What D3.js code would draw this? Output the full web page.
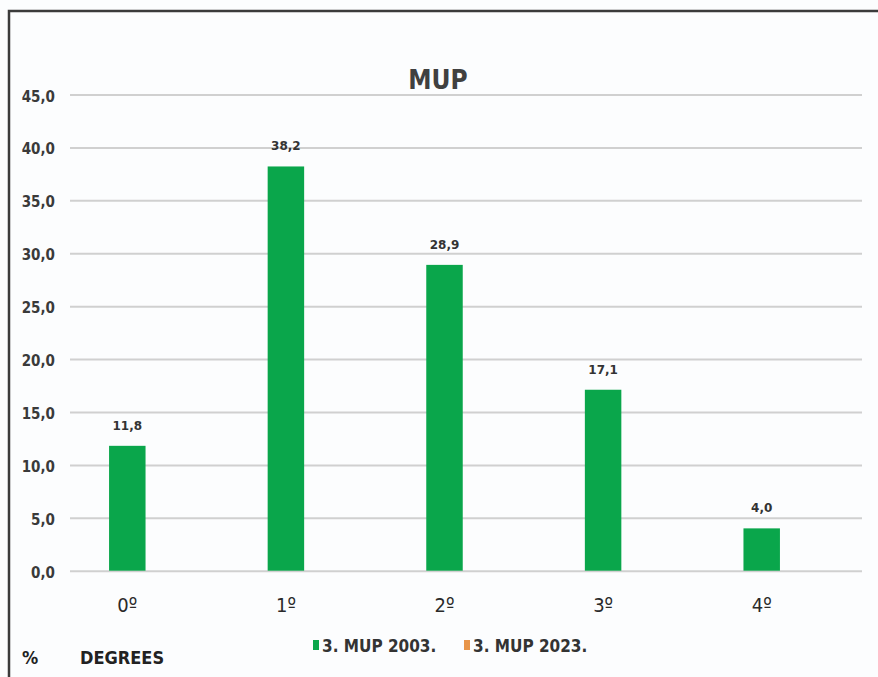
<!DOCTYPE html>
<html>
<head>
<meta charset="utf-8">
<script src="https://cdn.jsdelivr.net/npm/d3@7"></script>
<style>
  body { margin: 0; background: #fcfdfe; }
  svg { display: block; }
  .cond { font-family: "Liberation Sans Narrow", "DejaVu Sans Condensed", "Roboto Condensed", sans-serif; font-stretch: condensed; }
  .grid line { stroke: #d0d0d0; stroke-width: 2; }
  .grid .domain { display: none; }
  .ytick text { fill: #3a3a3a; font-size: 15px; font-weight: bold; }
  .xtick text { fill: #2a2a2a; font-size: 20px; }
  .bar { fill: #0aa64b; }
  .label { fill: #333; font-size: 12px; font-weight: bold; font-family: "DejaVu Sans", sans-serif; text-anchor: middle; }
</style>
</head>
<body>
<script>
var categories = ["0º", "1º", "2º", "3º", "4º"]
var mup2003 = [11.8, 38.2, 28.9, 17.1, 4.0]
var mup2023 = [0, 0, 0, 0, 0]
var yTicks = [0, 5, 10, 15, 20, 25, 30, 35, 40, 45]
var seriesNames = ["3. MUP 2003.", "3. MUP 2023."]
var seriesColors = ["#0aa64b", "#e8954a"]

var width = 878, height = 677
var fmt = function(v){ return v.toFixed(1).replace(".", ",") }

var svg = d3.select("body").append("svg")
    .attr("width", width)
    .attr("height", height)

// frame
svg.append("path")
    .attr("d", "M9,677 V11 H878")
    .attr("fill", "none")
    .attr("stroke", "#3b3b3b")
    .attr("stroke-width", 2.5)

var y = d3.scaleLinear()
    .domain([0, 45])
    .range([570.7, 94.5])

var x = d3.scaleBand()
    .domain(categories)
    .range([48, 841])
    .paddingInner(0.77)
    .paddingOuter(0.385)

//GRID
var grid = svg.append("g")
    .attr("class", "grid")
    .attr("transform", "translate(70,0)")
    .call(d3.axisRight(y).tickValues(yTicks).tickSize(792).tickFormat(""))

//Y LABELS
svg.append("g").attr("class", "ytick cond").selectAll("text")
    .data(yTicks)
    .enter().append("text")
    .attr("x", 55)
    .attr("y", function(d){ return y(d) + 7 })
    .attr("text-anchor", "end")
    .text(fmt)

//BARS
svg.selectAll("rect.bar")
    .data(mup2003)
    .enter().append("rect")
    .attr("class", "bar")
    .attr("x", function(d, i){ return x(categories[i]) })
    .attr("y", function(d){ return y(d) })
    .attr("width", x.bandwidth())
    .attr("height", function(d){ return y(0) - y(d) })

//VALUE LABELS
svg.append("g").selectAll("text")
    .data(mup2003)
    .enter().append("text")
    .attr("class", "label")
    .attr("x", function(d, i){ return x(categories[i]) + x.bandwidth() / 2 })
    .attr("y", function(d){ return y(d) - 16 })
    .text(fmt)

//X LABELS
svg.append("g").attr("class", "xtick cond").selectAll("text")
    .data(categories)
    .enter().append("text")
    .attr("x", function(d){ return x(d) + x.bandwidth() / 2 })
    .attr("y", 612)
    .attr("text-anchor", "middle")
    .text(function(d){ return d })

//TITLE
svg.append("text")
    .attr("class", "cond")
    .attr("x", 438)
    .attr("y", 89)
    .attr("text-anchor", "middle")
    .attr("fill", "#404040")
    .attr("font-size", 26)
    .attr("font-weight", "bold")
    .text("MUP")

//LEGEND
var legend = svg.append("g").attr("class", "cond")
var legX = [313, 464]
seriesNames.forEach(function(name, i){
    legend.append("rect")
        .attr("x", legX[i])
        .attr("y", 640)
        .attr("width", 6)
        .attr("height", 10)
        .attr("fill", seriesColors[i])
    legend.append("text")
        .attr("x", legX[i] + 9)
        .attr("y", 652)
        .attr("font-size", 17)
        .attr("font-weight", "bold")
        .attr("fill", "#333")
        .text(name)
})

//AXIS NAMES
svg.append("text")
    .attr("class", "cond")
    .attr("x", 22)
    .attr("y", 664)
    .attr("font-size", 18)
    .attr("font-weight", "bold")
    .attr("fill", "#222")
    .text("%")
svg.append("text")
    .attr("class", "cond")
    .attr("x", 80)
    .attr("y", 664)
    .attr("font-size", 18)
    .attr("font-weight", "bold")
    .attr("fill", "#222")
    .text("DEGREES")
</script>
</body>
</html>
